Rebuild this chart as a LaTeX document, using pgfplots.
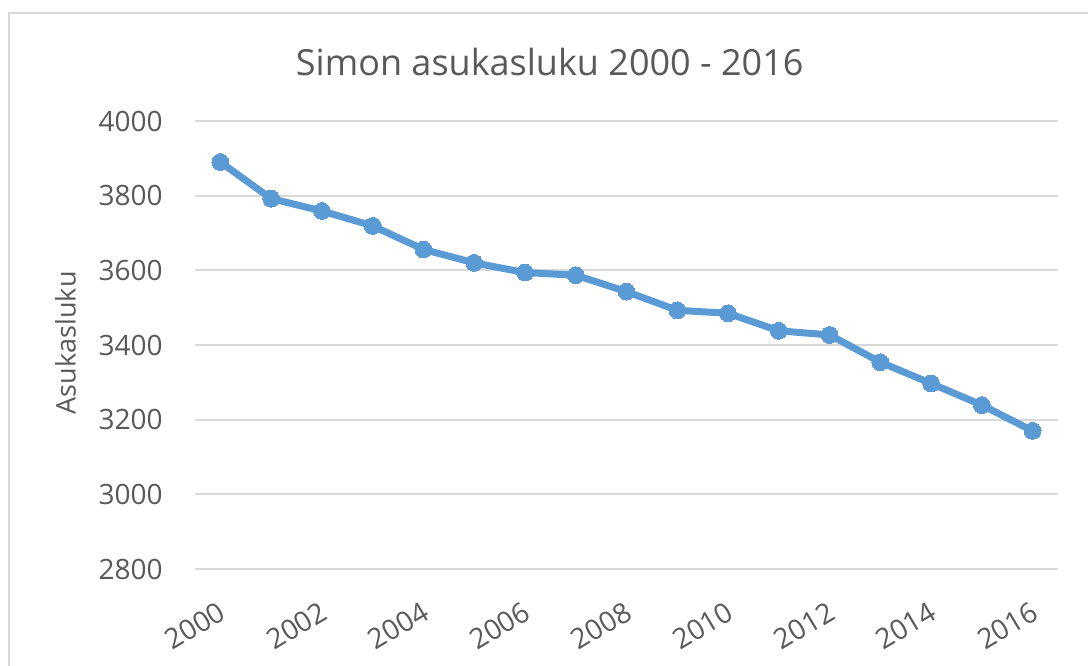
\documentclass[border=0pt]{standalone}
\usepackage{pgfplots}
\pgfplotsset{compat=1.18}
\usepackage{fontspec}
\setmainfont{Open Sans}
\definecolor{lineblue}{HTML}{5B9BD5}
\definecolor{gridgray}{HTML}{D9D9D9}
\definecolor{textgray}{HTML}{595959}
\begin{document}
\begin{tikzpicture}
\useasboundingbox (0,0) rectangle (544bp,333bp);
\draw[gridgray, line width=1bp] (4.5bp,0) -- (4.5bp,326.5bp) -- (544bp,326.5bp);
\begin{axis}[
  at={(97.5bp,48.5bp)}, anchor=south west,
  scale only axis, width=431.5bp, height=224bp,
  xmin=1999.5, xmax=2016.5, ymin=2800, ymax=4000,
  xtick={2000,2002,...,2016},
  ytick={2800,3000,...,4000},
  axis line style={draw=none},
  major tick length=0pt,
  ymajorgrids,
  grid style={color=gridgray, line width=1bp},
  /pgf/number format/1000 sep={},
  /pgf/number format/assume math mode=true,
  tick label style={font=\fontsize{14bp}{16bp}\selectfont, text=textgray},
  yticklabel style={anchor=east, inner sep=0pt, xshift=-16bp},
  xticklabel style={yshift=-15.5bp, xshift=-1.5bp, rotate=31, anchor=north east, inner sep=0pt},
  ylabel={Asukasluku},
  ylabel style={at={(axis description cs:-0.15,0.505)}, anchor=center, font=\fontsize{13.5bp}{15bp}\selectfont, text=textgray},
  title={Simon asukasluku 2000 - 2016},
  title style={at={(axis description cs:0.411,1)}, anchor=center, yshift=23.5bp, font=\fontsize{18bp}{20bp}\selectfont, text=textgray},
]
\addplot[color=lineblue, line width=3.5bp, mark=*, mark size=4.2bp, mark options={fill=lineblue, draw=lineblue, line width=0pt}] coordinates {
(2000,3890) (2001,3792) (2002,3759) (2003,3719) (2004,3656) (2005,3620)
(2006,3594) (2007,3587) (2008,3543) (2009,3493) (2010,3485) (2011,3438)
(2012,3427) (2013,3354) (2014,3297) (2015,3239) (2016,3170)
};
\end{axis}
\end{tikzpicture}
\end{document}
